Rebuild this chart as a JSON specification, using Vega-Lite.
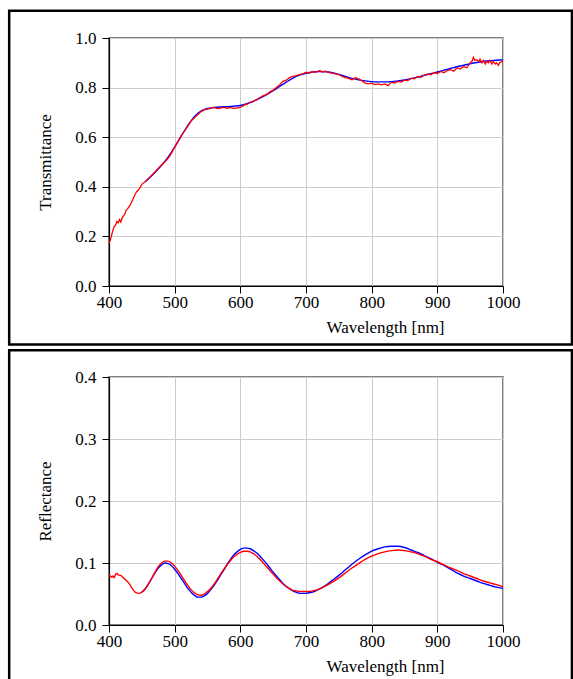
{
  "$schema": "https://vega.github.io/schema/vega-lite/v6.json",
  "padding": {"left": 7, "top": 8, "right": 0, "bottom": 0},
  "background": "white",
  "spacing": 91,
  "bounds": "flush",
  "config": {
    "font": "Liberation Serif",
    "view": {"stroke": "#555555", "strokeWidth": 1.5},
    "axis": {
      "labelFont": "Liberation Serif", "titleFont": "Liberation Serif",
      "labelFontSize": 17, "titleFontSize": 17, "titleFontWeight": "normal",
      "labelColor": "black", "titleColor": "black", "labelFlush": false, "grid": true,
      "domainColor": "black", "tickColor": "black", "domainWidth": 1.2,
      "gridColor": "#cccccc", "gridWidth": 1, "tickSize": 7
    }
  },
  "datasets": {
    "frame": [{"k": 1}],
    "trans_fit": [
      {"wl":455,"v":0.42},{"wl":460,"v":0.432},{"wl":470,"v":0.458},{"wl":480,"v":0.487},{"wl":490,"v":0.52},{"wl":500,"v":0.56},{"wl":510,"v":0.605},{"wl":520,"v":0.647},{"wl":530,"v":0.683},{"wl":540,"v":0.705},{"wl":550,"v":0.716},{"wl":560,"v":0.72},{"wl":570,"v":0.722},{"wl":580,"v":0.723},{"wl":590,"v":0.725},{"wl":600,"v":0.728},{"wl":610,"v":0.735},{"wl":620,"v":0.745},{"wl":630,"v":0.758},{"wl":640,"v":0.772},{"wl":650,"v":0.788},{"wl":660,"v":0.805},{"wl":670,"v":0.822},{"wl":680,"v":0.838},{"wl":690,"v":0.85},{"wl":700,"v":0.858},{"wl":710,"v":0.863},{"wl":720,"v":0.865},{"wl":730,"v":0.864},{"wl":740,"v":0.86},{"wl":750,"v":0.853},{"wl":760,"v":0.845},{"wl":770,"v":0.837},{"wl":780,"v":0.831},{"wl":790,"v":0.827},{"wl":800,"v":0.824},{"wl":810,"v":0.823},{"wl":820,"v":0.823},{"wl":830,"v":0.824},{"wl":840,"v":0.827},{"wl":850,"v":0.831},{"wl":860,"v":0.836},{"wl":870,"v":0.842},{"wl":880,"v":0.849},{"wl":890,"v":0.856},{"wl":900,"v":0.863},{"wl":910,"v":0.87},{"wl":920,"v":0.877},{"wl":930,"v":0.884},{"wl":940,"v":0.89},{"wl":950,"v":0.896},{"wl":960,"v":0.901},{"wl":970,"v":0.905},{"wl":980,"v":0.908},{"wl":990,"v":0.91},{"wl":1000,"v":0.912}
    ],
    "trans_meas": [
      {"wl":400,"v":0.172},{"wl":402,"v":0.185},{"wl":404,"v":0.205},{"wl":406,"v":0.225},{"wl":408,"v":0.24},{"wl":410,"v":0.245},{"wl":412,"v":0.26},{"wl":414,"v":0.255},{"wl":416,"v":0.268},{"wl":418,"v":0.258},{"wl":420,"v":0.275},{"wl":422,"v":0.283},{"wl":424,"v":0.29},{"wl":426,"v":0.305},{"wl":428,"v":0.31},{"wl":430,"v":0.318},{"wl":432,"v":0.325},{"wl":434,"v":0.337},{"wl":436,"v":0.348},{"wl":438,"v":0.36},{"wl":440,"v":0.37},{"wl":442,"v":0.38},{"wl":444,"v":0.385},{"wl":446,"v":0.392},{"wl":448,"v":0.4},{"wl":450,"v":0.41},{"wl":455,"v":0.42},{"wl":460,"v":0.433},{"wl":465,"v":0.447},{"wl":470,"v":0.46},{"wl":475,"v":0.474},{"wl":480,"v":0.488},{"wl":485,"v":0.5},{"wl":490,"v":0.515},{"wl":495,"v":0.535},{"wl":500,"v":0.56},{"wl":505,"v":0.583},{"wl":510,"v":0.605},{"wl":515,"v":0.625},{"wl":520,"v":0.645},{"wl":525,"v":0.665},{"wl":530,"v":0.678},{"wl":535,"v":0.69},{"wl":540,"v":0.703},{"wl":545,"v":0.71},{"wl":550,"v":0.713},{"wl":555,"v":0.716},{"wl":560,"v":0.72},{"wl":565,"v":0.715},{"wl":570,"v":0.717},{"wl":575,"v":0.72},{"wl":580,"v":0.716},{"wl":585,"v":0.72},{"wl":590,"v":0.715},{"wl":595,"v":0.718},{"wl":600,"v":0.72},{"wl":605,"v":0.728},{"wl":610,"v":0.733},{"wl":615,"v":0.74},{"wl":620,"v":0.745},{"wl":625,"v":0.752},{"wl":630,"v":0.76},{"wl":635,"v":0.768},{"wl":640,"v":0.772},{"wl":645,"v":0.783},{"wl":650,"v":0.79},{"wl":655,"v":0.8},{"wl":660,"v":0.812},{"wl":665,"v":0.825},{"wl":670,"v":0.83},{"wl":675,"v":0.84},{"wl":680,"v":0.845},{"wl":685,"v":0.848},{"wl":690,"v":0.852},{"wl":695,"v":0.855},{"wl":700,"v":0.862},{"wl":705,"v":0.858},{"wl":710,"v":0.865},{"wl":715,"v":0.862},{"wl":720,"v":0.868},{"wl":725,"v":0.863},{"wl":730,"v":0.866},{"wl":735,"v":0.86},{"wl":740,"v":0.858},{"wl":745,"v":0.855},{"wl":750,"v":0.853},{"wl":755,"v":0.845},{"wl":760,"v":0.84},{"wl":765,"v":0.837},{"wl":770,"v":0.832},{"wl":775,"v":0.84},{"wl":780,"v":0.835},{"wl":785,"v":0.828},{"wl":790,"v":0.818},{"wl":795,"v":0.815},{"wl":800,"v":0.818},{"wl":805,"v":0.812},{"wl":810,"v":0.815},{"wl":815,"v":0.811},{"wl":820,"v":0.815},{"wl":825,"v":0.808},{"wl":830,"v":0.822},{"wl":835,"v":0.818},{"wl":840,"v":0.825},{"wl":845,"v":0.822},{"wl":850,"v":0.83},{"wl":855,"v":0.828},{"wl":860,"v":0.838},{"wl":865,"v":0.835},{"wl":870,"v":0.845},{"wl":875,"v":0.842},{"wl":880,"v":0.85},{"wl":885,"v":0.855},{"wl":890,"v":0.852},{"wl":895,"v":0.86},{"wl":900,"v":0.857},{"wl":905,"v":0.865},{"wl":910,"v":0.86},{"wl":915,"v":0.868},{"wl":920,"v":0.872},{"wl":925,"v":0.866},{"wl":930,"v":0.88},{"wl":935,"v":0.875},{"wl":940,"v":0.885},{"wl":945,"v":0.88},{"wl":950,"v":0.9},{"wl":953,"v":0.907},{"wl":955,"v":0.922},{"wl":957,"v":0.91},{"wl":960,"v":0.912},{"wl":963,"v":0.905},{"wl":965,"v":0.915},{"wl":968,"v":0.9},{"wl":970,"v":0.91},{"wl":973,"v":0.895},{"wl":975,"v":0.905},{"wl":978,"v":0.9},{"wl":980,"v":0.91},{"wl":983,"v":0.895},{"wl":985,"v":0.905},{"wl":988,"v":0.895},{"wl":990,"v":0.9},{"wl":993,"v":0.89},{"wl":995,"v":0.9},{"wl":998,"v":0.905},{"wl":1000,"v":0.908}
    ],
    "refl_fit": [
      {"wl":450,"v":0.053},{"wl":455,"v":0.058},{"wl":460,"v":0.066},{"wl":465,"v":0.075},{"wl":470,"v":0.084},{"wl":475,"v":0.092},{"wl":480,"v":0.097},{"wl":485,"v":0.1},{"wl":490,"v":0.099},{"wl":495,"v":0.096},{"wl":500,"v":0.09},{"wl":505,"v":0.083},{"wl":510,"v":0.075},{"wl":515,"v":0.067},{"wl":520,"v":0.059},{"wl":525,"v":0.053},{"wl":530,"v":0.048},{"wl":535,"v":0.045},{"wl":540,"v":0.045},{"wl":545,"v":0.047},{"wl":550,"v":0.051},{"wl":555,"v":0.057},{"wl":560,"v":0.064},{"wl":565,"v":0.072},{"wl":570,"v":0.081},{"wl":575,"v":0.089},{"wl":580,"v":0.098},{"wl":585,"v":0.106},{"wl":590,"v":0.113},{"wl":595,"v":0.118},{"wl":600,"v":0.122},{"wl":605,"v":0.124},{"wl":610,"v":0.124},{"wl":615,"v":0.123},{"wl":620,"v":0.12},{"wl":625,"v":0.116},{"wl":630,"v":0.111},{"wl":635,"v":0.105},{"wl":640,"v":0.099},{"wl":645,"v":0.092},{"wl":650,"v":0.085},{"wl":655,"v":0.079},{"wl":660,"v":0.073},{"wl":665,"v":0.067},{"wl":670,"v":0.062},{"wl":675,"v":0.058},{"wl":680,"v":0.055},{"wl":685,"v":0.053},{"wl":690,"v":0.051},{"wl":695,"v":0.051},{"wl":700,"v":0.051},{"wl":705,"v":0.052},{"wl":710,"v":0.053},{"wl":720,"v":0.058},{"wl":730,"v":0.064},{"wl":740,"v":0.072},{"wl":750,"v":0.08},{"wl":760,"v":0.089},{"wl":770,"v":0.098},{"wl":780,"v":0.106},{"wl":790,"v":0.113},{"wl":800,"v":0.119},{"wl":810,"v":0.123},{"wl":820,"v":0.126},{"wl":830,"v":0.127},{"wl":840,"v":0.127},{"wl":850,"v":0.125},{"wl":860,"v":0.121},{"wl":870,"v":0.117},{"wl":880,"v":0.112},{"wl":890,"v":0.107},{"wl":900,"v":0.101},{"wl":910,"v":0.096},{"wl":920,"v":0.09},{"wl":930,"v":0.084},{"wl":940,"v":0.079},{"wl":950,"v":0.075},{"wl":960,"v":0.071},{"wl":970,"v":0.067},{"wl":980,"v":0.064},{"wl":990,"v":0.061},{"wl":1000,"v":0.059}
    ],
    "refl_meas": [
      {"wl":400,"v":0.081},{"wl":402,"v":0.079},{"wl":404,"v":0.077},{"wl":406,"v":0.079},{"wl":408,"v":0.076},{"wl":410,"v":0.082},{"wl":412,"v":0.083},{"wl":414,"v":0.081},{"wl":416,"v":0.08},{"wl":418,"v":0.08},{"wl":420,"v":0.078},{"wl":422,"v":0.076},{"wl":424,"v":0.074},{"wl":426,"v":0.072},{"wl":428,"v":0.07},{"wl":430,"v":0.068},{"wl":432,"v":0.065},{"wl":434,"v":0.061},{"wl":436,"v":0.058},{"wl":438,"v":0.055},{"wl":440,"v":0.053},{"wl":442,"v":0.052},{"wl":444,"v":0.051},{"wl":446,"v":0.051},{"wl":448,"v":0.052},{"wl":450,"v":0.053},{"wl":455,"v":0.058},{"wl":460,"v":0.066},{"wl":465,"v":0.075},{"wl":470,"v":0.085},{"wl":475,"v":0.094},{"wl":480,"v":0.1},{"wl":485,"v":0.103},{"wl":490,"v":0.103},{"wl":495,"v":0.1},{"wl":500,"v":0.095},{"wl":505,"v":0.088},{"wl":510,"v":0.08},{"wl":515,"v":0.072},{"wl":520,"v":0.064},{"wl":525,"v":0.057},{"wl":530,"v":0.052},{"wl":535,"v":0.049},{"wl":540,"v":0.048},{"wl":545,"v":0.05},{"wl":550,"v":0.054},{"wl":555,"v":0.059},{"wl":560,"v":0.066},{"wl":565,"v":0.074},{"wl":570,"v":0.082},{"wl":575,"v":0.09},{"wl":580,"v":0.097},{"wl":585,"v":0.104},{"wl":590,"v":0.11},{"wl":595,"v":0.114},{"wl":600,"v":0.117},{"wl":605,"v":0.119},{"wl":610,"v":0.119},{"wl":615,"v":0.118},{"wl":620,"v":0.115},{"wl":625,"v":0.111},{"wl":630,"v":0.106},{"wl":635,"v":0.1},{"wl":640,"v":0.094},{"wl":645,"v":0.088},{"wl":650,"v":0.082},{"wl":655,"v":0.076},{"wl":660,"v":0.071},{"wl":665,"v":0.066},{"wl":670,"v":0.062},{"wl":675,"v":0.059},{"wl":680,"v":0.056},{"wl":685,"v":0.055},{"wl":690,"v":0.054},{"wl":695,"v":0.054},{"wl":700,"v":0.054},{"wl":705,"v":0.054},{"wl":710,"v":0.055},{"wl":720,"v":0.058},{"wl":730,"v":0.063},{"wl":740,"v":0.069},{"wl":750,"v":0.076},{"wl":760,"v":0.084},{"wl":770,"v":0.092},{"wl":780,"v":0.099},{"wl":790,"v":0.106},{"wl":800,"v":0.111},{"wl":810,"v":0.115},{"wl":820,"v":0.118},{"wl":830,"v":0.12},{"wl":840,"v":0.121},{"wl":850,"v":0.12},{"wl":860,"v":0.118},{"wl":870,"v":0.115},{"wl":880,"v":0.111},{"wl":890,"v":0.106},{"wl":900,"v":0.102},{"wl":910,"v":0.097},{"wl":920,"v":0.092},{"wl":930,"v":0.088},{"wl":940,"v":0.083},{"wl":950,"v":0.079},{"wl":960,"v":0.075},{"wl":970,"v":0.071},{"wl":980,"v":0.068},{"wl":990,"v":0.065},{"wl":1000,"v":0.062}
    ]
  },
  "vconcat": [
    {
      "width": 394, "height": 248,
      "encoding": {
        "x": {"type": "quantitative", "scale": {"domain": [400, 1000]},
              "axis": {"values": [400,500,600,700,800,900,1000], "format": "d", "title": "Wavelength [nm]", "titleX": 276, "titleY": 46, "titleBaseline": "alphabetic", "titleAlign": "center", "grid": true, "labelFlush": false, "labelFontSize": 17, "titleFontSize": 17, "labelPadding": 1}},
        "y": {"type": "quantitative", "scale": {"domain": [0, 1]},
              "axis": {"values": [0,0.2,0.4,0.6,0.8,1.0], "format": ".1f", "title": "Transmittance", "titleX": -55, "titleY": 124, "titleBaseline": "bottom", "titleAlign": "center", "grid": true, "labelFlush": false, "labelFontSize": 17, "titleFontSize": 17, "labelPadding": 6}}
      },
      "layer": [
        {
          "data": {"name": "frame"},
          "mark": {"type": "rect", "filled": false, "stroke": "black", "strokeWidth": 2.5, "clip": false},
          "encoding": {
            "x": {"datum": 248, "type": "quantitative"},
            "x2": {"datum": 1105},
            "y": {"datum": 1.11, "type": "quantitative"},
            "y2": {"datum": -0.236}
          }
        },
        {
          "data": {"name": "trans_fit"},
          "mark": {"type": "line", "color": "#0000ff", "strokeWidth": 1.4, "interpolate": "monotone"},
          "encoding": {"x": {"field": "wl", "type": "quantitative"}, "y": {"field": "v", "type": "quantitative"}}
        },
        {
          "data": {"name": "trans_meas"},
          "mark": {"type": "line", "color": "#ff0000", "strokeWidth": 1.3},
          "encoding": {"x": {"field": "wl", "type": "quantitative"}, "y": {"field": "v", "type": "quantitative"}}
        }
      ]
    },
    {
      "width": 394, "height": 248,
      "encoding": {
        "x": {"type": "quantitative", "scale": {"domain": [400, 1000]},
              "axis": {"values": [400,500,600,700,800,900,1000], "format": "d", "title": "Wavelength [nm]", "titleX": 276, "titleY": 46, "titleBaseline": "alphabetic", "titleAlign": "center", "grid": true, "labelFlush": false, "labelFontSize": 17, "titleFontSize": 17, "labelPadding": 1}},
        "y": {"type": "quantitative", "scale": {"domain": [0, 0.4]},
              "axis": {"values": [0,0.1,0.2,0.3,0.4], "format": ".1f", "title": "Reflectance", "titleX": -55, "titleY": 124, "titleBaseline": "bottom", "titleAlign": "center", "grid": true, "labelFlush": false, "labelFontSize": 17, "titleFontSize": 17, "labelPadding": 6}}
      },
      "layer": [
        {
          "data": {"name": "frame"},
          "mark": {"type": "rect", "filled": false, "stroke": "black", "strokeWidth": 2.5, "clip": false},
          "encoding": {
            "x": {"datum": 248, "type": "quantitative"},
            "x2": {"datum": 1105},
            "y": {"datum": 0.443, "type": "quantitative"},
            "y2": {"datum": -0.1}
          }
        },
        {
          "data": {"name": "refl_fit"},
          "mark": {"type": "line", "color": "#0000ff", "strokeWidth": 1.4, "interpolate": "monotone"},
          "encoding": {"x": {"field": "wl", "type": "quantitative"}, "y": {"field": "v", "type": "quantitative"}}
        },
        {
          "data": {"name": "refl_meas"},
          "mark": {"type": "line", "color": "#ff0000", "strokeWidth": 1.4, "interpolate": "monotone"},
          "encoding": {"x": {"field": "wl", "type": "quantitative"}, "y": {"field": "v", "type": "quantitative"}}
        }
      ]
    }
  ]
}
